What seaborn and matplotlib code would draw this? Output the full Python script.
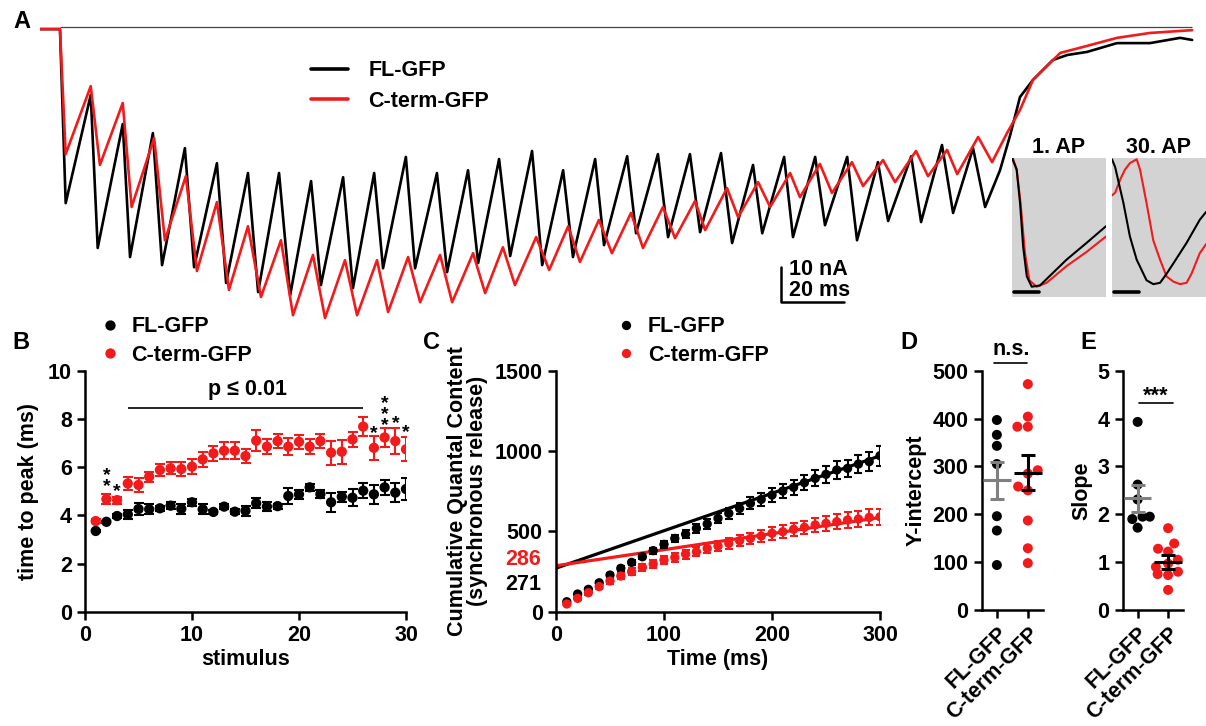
import numpy as np
import pandas as pd
import matplotlib.pyplot as plt
import seaborn as sns

sns.set_theme(style="ticks")
plt.rcParams["font.family"] = ["Liberation Sans", "DejaVu Sans"]
plt.rcParams.update({
    "font.weight": "bold", "axes.labelweight": "bold", "axes.titleweight": "bold",
    "text.color": "black", "axes.labelcolor": "black", "axes.edgecolor": "black",
    "xtick.color": "black", "ytick.color": "black",
    "axes.linewidth": 1.8, "xtick.major.width": 1.8, "ytick.major.width": 1.8,
    "xtick.major.size": 5.5, "ytick.major.size": 5.5,
    "xtick.major.pad": 4, "ytick.major.pad": 4,
    "xtick.labelsize": 15.5, "ytick.labelsize": 15.5, "axes.labelsize": 15.5,
})

FL, CT = "FL-GFP", "C-term-GFP"
RED = "#f21a1a"
pal = {FL: "black", CT: RED}

# %% A: evoked current trains (vertices), ms / nA
fl_t = [-6.3, 0, 1.8, 9.7, 11.9, 19.8, 22.1, 29.3, 32.2, 39.4, 42.3, 49.5, 52.4, 59.3, 62.5, 69.1,
        72.6, 79.2, 82.3, 89.3, 92.4, 99.1, 101.9, 109.1, 112.0, 118.9, 122.1, 128.7, 131.9, 138.5,
        142.0, 148.9, 152.1, 158.7, 161.8, 168.8, 171.6, 178.9, 181.7, 188.6, 191.8, 198.7, 201.9,
        208.5, 212.0, 218.6, 221.5, 228.4, 231.2, 238.2, 241.3, 248.3, 251.4, 258.0, 261.2, 268.5,
        271.6, 278.2, 281.7, 288.0, 291.8, 296.5, 299.7, 302.8, 306.9, 313.2, 317.7, 324.0, 333.4,
        343.8, 353.3, 357.1]
fl_i = [-0.6, -0.6, -50.3, -19.4, -63.1, -27.7, -65.7, -30.3, -68.0, -34.6, -68.6, -38.9, -73.1, -41.7,
        -75.7, -41.7, -76.6, -44.0, -73.7, -42.9, -74.6, -41.7, -68.9, -37.1, -68.9, -41.7, -70.0, -40.9,
        -67.4, -37.7, -65.4, -35.4, -68.0, -40.9, -65.7, -37.7, -62.3, -36.9, -58.9, -36.3, -60.0, -36.3,
        -58.6, -36.0, -61.7, -39.4, -58.9, -37.1, -60.0, -37.1, -56.6, -37.1, -60.9, -38.6, -55.4, -36.9,
        -55.7, -33.7, -53.1, -34.6, -51.4, -40.9, -30.9, -20.0, -15.1, -9.4, -8.0, -7.1, -4.6, -4.6,
        -3.1, -3.7]
ct_t = [-6.3, 0, 1.8, 9.7, 12.6, 19.8, 22.6, 29.7, 33.1, 39.7, 43.2, 49.5, 53.3, 59.3, 63.4, 69.7,
        73.5, 79.8, 83.6, 89.9, 93.7, 100.0, 103.5, 109.8, 113.6, 119.9, 123.7, 130.3, 134.1, 139.7,
        143.5, 150.2, 154.3, 160.3, 164.0, 170.0, 174.1, 180.1, 183.9, 190.2, 194.0, 200.3, 203.5,
        210.4, 213.9, 220.2, 224.0, 230.3, 233.4, 239.7, 243.5, 249.8, 253.3, 259.6, 263.4, 270.0,
        273.8, 279.8, 283.0, 289.6, 294.0, 298.7, 302.8, 306.9, 315.5, 322.7, 333.4, 343.8, 357.1]
ct_i = [-0.6, -0.6, -36.3, -16.9, -39.4, -21.7, -51.4, -31.7, -60.9, -42.6, -69.7, -50.0, -75.1, -56.9,
        -77.1, -60.9, -82.3, -65.1, -83.1, -66.6, -82.3, -66.6, -81.4, -65.7, -78.6, -65.1, -78.6, -64.6,
        -76.0, -62.9, -73.7, -60.0, -69.4, -56.9, -67.1, -55.1, -64.6, -53.1, -63.1, -51.4, -60.3, -49.7,
        -58.0, -46.0, -54.3, -44.3, -51.4, -41.7, -48.6, -39.1, -47.4, -38.6, -45.4, -38.0, -44.3, -35.4,
        -42.6, -35.1, -42.0, -31.4, -38.6, -30.3, -23.7, -15.1, -7.4, -5.7, -3.1, -1.7, -0.9]

# insets (ms, normalised current)
ap1_fl_t = [0, 0.18, 0.31, 0.43, 0.57, 0.76, 1.08, 2.10, 2.87, 3.62]
ap1_fl_i = [0, -0.09, -0.35, -0.69, -0.92, -1.00, -0.99, -0.79, -0.66, -0.53]
ap1_ct_t = [0.03, 0.18, 0.33, 0.50, 0.67, 0.95, 1.33, 2.10, 2.87, 3.62]
ap1_ct_i = [0, -0.09, -0.35, -0.74, -0.95, -1.00, -0.97, -0.84, -0.73, -0.61]
ap30_fl_t = [0, 0.12, 0.44, 0.69, 0.95, 1.33, 1.59, 1.85, 2.10, 2.36, 2.87, 3.38, 3.62]
ap30_fl_i = [-0.01, -0.07, -0.35, -0.61, -0.79, -0.95, -0.98, -0.97, -0.90, -0.82, -0.66, -0.48, -0.42]
ap30_ct_t = [0, 0.12, 0.31, 0.5, 0.69, 0.95, 1.08, 1.33, 1.59, 1.85, 2.10, 2.36, 2.62, 2.87, 3.06, 3.38, 3.62]
ap30_ct_i = [-0.29, -0.27, -0.17, -0.09, -0.04, -0.01, -0.09, -0.35, -0.64, -0.79, -0.92, -0.96, -0.98,
             -0.97, -0.90, -0.74, -0.67]

# %% B: time to peak
stim = list(range(1, 31))
ttp_fl = [3.35, 3.73, 3.97, 4.04, 4.26, 4.25, 4.29, 4.40, 4.27, 4.54, 4.25, 4.14, 4.36, 4.15, 4.19,
          4.50, 4.36, 4.38, 4.80, 4.87, 5.16, 4.88, 4.54, 4.77, 4.73, 5.02, 4.87, 5.16, 4.94, 5.09]
ttp_fl_err = [0.05, 0.05, 0.1, 0.2, 0.25, 0.2, 0.1, 0.15, 0.2, 0.15, 0.2, 0.1, 0.1, 0.1, 0.2,
              0.2, 0.2, 0.1, 0.35, 0.2, 0.15, 0.15, 0.4, 0.2, 0.35, 0.3, 0.4, 0.3, 0.4, 0.45]
ttp_ct = [3.76, 4.67, 4.63, 5.32, 5.26, 5.60, 5.88, 5.95, 5.92, 6.02, 6.32, 6.57, 6.68, 6.68, 6.46,
          7.10, 6.85, 7.08, 6.85, 7.05, 6.85, 7.08, 6.60, 6.64, 7.15, 7.68, 6.80, 7.23, 7.08, 6.74]
ttp_ct_err = [0.1, 0.2, 0.15, 0.28, 0.28, 0.2, 0.25, 0.25, 0.3, 0.3, 0.3, 0.3, 0.35, 0.35, 0.3,
              0.45, 0.3, 0.3, 0.35, 0.3, 0.3, 0.3, 0.5, 0.5, 0.3, 0.38, 0.5, 0.4, 0.55, 0.5]
# significance marks above single stimuli
sig_stim = [2, 3, 27, 28, 29, 30]
sig_text = ["*\n*", "*", "*", "*\n*\n*", "*", "*"]
sig_y = [4.85, 4.65, 7.05, 7.35, 7.45, 7.1]

# %% C: cumulative quantal content
cq_t = list(range(10, 301, 10))
cq_fl = [62, 110, 139, 180, 228, 270, 307, 342, 380, 419, 456, 483, 519, 546, 581, 612, 643, 674,
         699, 726, 751, 774, 803, 830, 855, 882, 892, 919, 934, 971]
cq_fl_err = [4, 6, 8, 10, 12, 14, 15, 17, 19, 21, 23, 25, 27, 29, 31, 33, 35, 37, 39, 41, 43, 45,
             47, 49, 51, 53, 55, 57, 60, 62]
cq_ct = [48, 83, 118, 156, 191, 222, 249, 276, 297, 322, 338, 359, 373, 394, 409, 425, 442, 456,
         471, 488, 498, 513, 525, 540, 550, 560, 571, 577, 587, 591]
cq_ct_err = [6, 9, 12, 14, 16, 18, 20, 22, 23, 25, 26, 28, 29, 31, 32, 33, 35, 36, 37, 39, 40, 41,
             42, 44, 45, 46, 47, 48, 50, 51]
fit_icpt = {FL: 271, CT: 286}
fit_slope = {FL: 2.33, CT: 1.0}

# %% D / E: per-cell intercepts and slopes
yint_fl = [366, 397, 343, 305, 196, 166, 94]
yint_ct = [472, 404, 383, 383, 292, 285, 258, 250, 187, 129, 98]
yint_mean, yint_sem = [271, 287], [39, 36]
slope_fl = [3.93, 2.62, 2.31, 1.95, 1.95, 1.90, 1.72]
slope_ct = [1.71, 1.39, 1.28, 1.22, 1.05, 0.97, 0.90, 0.80, 0.75, 0.73, 0.42]
slope_mean, slope_sem = [2.33, 1.00], [0.28, 0.14]

W, H = 1206, 726
def box(x0, y0, x1, y1):
    return [x0 / W, 1 - y1 / H, (x1 - x0) / W, (y1 - y0) / H]

fig = plt.figure(figsize=(W / 100, H / 100), dpi=100)

# ---------------- A
axA = fig.add_axes(box(40, 20, 1195, 325))
tr = pd.DataFrame({"t": fl_t + ct_t, "i": fl_i + ct_i,
                   "grp": [FL] * len(fl_t) + [CT] * len(ct_t)})
axA.hlines(0, 0, fl_t[-1], color="#444444", lw=0.9)
sns.lineplot(data=tr, x="t", y="i", hue="grp", hue_order=[FL, CT], palette=pal,
             estimator=None, sort=False, lw=1.9, ax=axA)
axA.set_xlim(-6.3, 358)
axA.set_ylim(-85.1, 2.0)
axA.axis("off")
sns.move_legend(axA, "upper left", bbox_to_anchor=(0.218, 0.932), frameon=False, title=None,
                fontsize=15.5, handlelength=1.7, handletextpad=0.95, labelspacing=0.45)
for h in axA.get_legend().get_lines():
    h.set_linewidth(2.6)
# scale bar 10 nA / 20 ms
sb_t, sb_i = 227.4, -78.6
axA.plot([sb_t, sb_t, sb_t + 20], [sb_i + 10, sb_i, sb_i], color="black", lw=1.8)
axA.text(sb_t + 2.5, sb_i + 9.3, "10 nA", fontsize=15.5, va="center", ha="left")
axA.text(sb_t + 2.5, sb_i + 3.3, "20 ms", fontsize=15.5, va="center", ha="left")

for pos, ft, fi, ctt, cti, ttl in [
        (box(1012, 158, 1106, 297), ap1_fl_t, ap1_fl_i, ap1_ct_t, ap1_ct_i, "1. AP"),
        (box(1112, 158, 1206, 297), ap30_fl_t, ap30_fl_i, ap30_ct_t, ap30_ct_i, "30. AP")]:
    ax = fig.add_axes(pos)
    ax.set_facecolor("#d3d3d3")
    sns.lineplot(x=ctt, y=cti, color=RED, estimator=None, sort=False, lw=1.5, ax=ax)
    sns.lineplot(x=ft, y=fi, color="black", estimator=None, sort=False, lw=1.5, ax=ax)
    ax.plot([0.08, 1.05], [-1.04, -1.04], color="black", lw=2.6)
    ax.set_xlim(0, 3.62)
    ax.set_ylim(-1.08, 0.0)
    for s in ax.spines.values():
        s.set_visible(False)
    ax.set_xticks([]); ax.set_yticks([])
    ax.set_xlabel(""); ax.set_ylabel("")
    ax.set_title(ttl, fontsize=15.5, pad=3)

# ---------------- B
axB = fig.add_axes(box(85, 370.7, 406, 611.7))
dB = pd.DataFrame({"stim": stim + stim, "ttp": ttp_fl + ttp_ct,
                   "grp": [FL] * len(stim) + [CT] * len(stim)})
axB.errorbar(stim, ttp_fl, yerr=ttp_fl_err, fmt="none", ecolor="black", elinewidth=1.5, capsize=3.5, capthick=1.5)
axB.errorbar(stim, ttp_ct, yerr=ttp_ct_err, fmt="none", ecolor=RED, elinewidth=1.5, capsize=3.5, capthick=1.5)
sns.scatterplot(data=dB, x="stim", y="ttp", hue="grp", hue_order=[FL, CT], palette=pal,
                s=55, linewidth=0, zorder=3, ax=axB)
axB.set_xlim(0, 30); axB.set_ylim(0, 10)
axB.set_xticks([0, 10, 20, 30]); axB.set_yticks([0, 2, 4, 6, 8, 10])
axB.set_xlabel("stimulus", labelpad=2)
axB.set_ylabel("time to peak (ms)", labelpad=6)
sns.despine(ax=axB)
sns.move_legend(axB, "lower left", bbox_to_anchor=(0.05, 1.02), frameon=False, title=None,
                fontsize=15.5, handlelength=0.8, handletextpad=0.6, labelspacing=0.35, borderaxespad=0, borderpad=0)
axB.hlines(8.46, 4, 26, color="black", lw=1.2)
axB.text(15.2, 9.2, "p ≤ 0.01", ha="center", va="center", fontsize=15.5)
for x, s, y in zip(sig_stim, sig_text, sig_y):
    axB.text(x, y, s, ha="center", va="bottom", fontsize=14, linespacing=0.55, clip_on=False)

# ---------------- C
axC = fig.add_axes(box(556, 370.7, 880, 611.7))
t_fit = np.array([0, 300])
for g in [FL, CT]:
    axC.plot(t_fit, fit_icpt[g] + fit_slope[g] * t_fit, color=pal[g], lw=2.3, zorder=1)
axC.errorbar(cq_t, cq_fl, yerr=cq_fl_err, fmt="none", ecolor="black", elinewidth=1.5, capsize=3, capthick=1.5)
axC.errorbar(cq_t, cq_ct, yerr=cq_ct_err, fmt="none", ecolor=RED, elinewidth=1.5, capsize=3, capthick=1.5)
dC = pd.DataFrame({"t": cq_t + cq_t, "q": cq_fl + cq_ct, "grp": [FL] * len(cq_t) + [CT] * len(cq_t)})
sns.scatterplot(data=dC, x="t", y="q", hue="grp", hue_order=[FL, CT], palette=pal,
                s=45, linewidth=0, zorder=3, ax=axC)
axC.set_xlim(0, 300); axC.set_ylim(0, 1500)
axC.set_xticks([0, 100, 200, 300]); axC.set_yticks([0, 500, 1000, 1500])
axC.set_xlabel("Time (ms)", labelpad=2)
axC.set_ylabel("Cumulative Quantal Content\n(synchronous release)", labelpad=5, linespacing=0.95)
sns.despine(ax=axC)
sns.move_legend(axC, "lower left", bbox_to_anchor=(0.19, 1.02), frameon=False, title=None,
                fontsize=15.5, handlelength=0.8, handletextpad=0.6, labelspacing=0.35, borderaxespad=0, borderpad=0)
tr_C = axC.get_yaxis_transform()
axC.text(-0.045, fit_icpt[CT] + 42, str(fit_icpt[CT]), color=RED, ha="right", va="center",
         fontsize=15.5, transform=tr_C)
axC.text(-0.045, fit_icpt[FL] - 99, str(fit_icpt[FL]), color="black", ha="right", va="center",
         fontsize=15.5, transform=tr_C)

# ---------------- D / E
def dotplot(ax, v_fl, v_ct, means, sems, ylim, yticks, ylabel):
    d = pd.DataFrame({"grp": [FL] * len(v_fl) + [CT] * len(v_ct), "v": v_fl + v_ct})
    sns.swarmplot(data=d, x="grp", y="v", hue="grp", order=[FL, CT], hue_order=[FL, CT],
                  palette=pal, size=7.2, linewidth=0, legend=False, ax=ax)
    for k, c in enumerate(["#808080", "black"]):
        ax.errorbar(k, means[k], yerr=sems[k], fmt="none", ecolor=c, elinewidth=2.2,
                    capsize=4.8, capthick=2.2, zorder=5)
        ax.hlines(means[k], k - 0.45, k + 0.45, colors=c, lw=2.2, zorder=5)
    ax.set_ylim(*ylim)
    ax.set_yticks(yticks)
    ax.set_xlim(-0.49, 1.49)
    ax.set_xticks([0, 1])
    ax.set_xticklabels([FL, CT], rotation=45, ha="right", rotation_mode="anchor")
    ax.set_xlabel("")
    ax.set_ylabel(ylabel, labelpad=4)
    sns.despine(ax=ax)

axD = fig.add_axes(box(981.7, 370.7, 1043, 610))
dotplot(axD, yint_fl, yint_ct, yint_mean, yint_sem, (0, 500), range(0, 501, 100), "Y-intercept")
axD.plot([-0.08, 0.98], [516, 516], color="black", lw=1.2, clip_on=False)
axD.text(0.45, 522, "n.s.", ha="center", va="bottom", fontsize=15.5, clip_on=False)

axE = fig.add_axes(box(1122.7, 370.7, 1183, 610))
dotplot(axE, slope_fl, slope_ct, slope_mean, slope_sem, (0, 5), range(0, 6), "Slope")
axE.plot([0.05, 1.15], [4.33, 4.33], color="black", lw=1.2, clip_on=False)
axE.text(0.6, 4.36, "***", ha="center", va="baseline", fontsize=15.5, clip_on=False)

for lab, x, y in [("A", 22, 22), ("B", 21, 343), ("C", 431, 343), ("D", 909, 343), ("E", 1088, 343)]:
    fig.text(x / W, 1 - y / H, lab, fontsize=17, fontweight="bold", ha="center", va="center")

fig.savefig("out.png", dpi=100)
